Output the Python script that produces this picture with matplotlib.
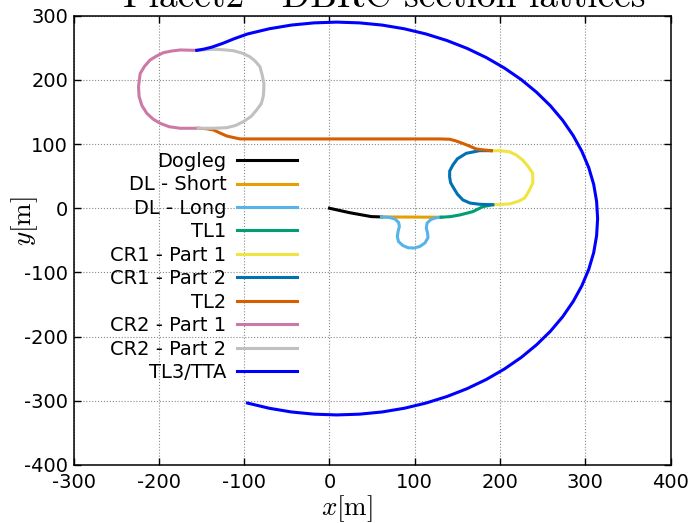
import matplotlib
matplotlib.use("Agg")
import matplotlib.pyplot as plt

plt.rcParams["mathtext.fontset"] = "cm"
plt.rcParams["axes.unicode_minus"] = False

# lattice segments, coordinates in metres
dogleg_x = [0, 24, 49, 61]
dogleg_y = [0, -7, -13, -13.5]

dl_short_x = [61, 131]
dl_short_y = [-13.5, -14]

dl_long_x = [61, 70, 77, 81, 82, 80.5, 79.5, 81, 86, 92, 99, 106, 112, 115.5,
             115, 113.5, 114.5, 119, 125, 131]
dl_long_y = [-13.5, -14.2, -17, -22, -28, -36, -44, -52, -58, -61.5, -62, -59.5,
             -54, -46, -38, -31, -23, -17.5, -14.8, -14]

tl1_x = [131, 142, 153, 168, 180, 191.6]
tl1_y = [-14, -13, -10.4, -5.3, 2.5, 5.5]

cr1_p1_x = [191.6, 211, 222, 229, 234, 238.4, 238.4, 233, 226.7, 219, 211, 200, 189.7]
cr1_p1_y = [5.5, 6.7, 11, 16, 27, 39, 54.5, 65, 75, 83, 88, 89.7, 89.7]

cr1_p2_x = [189.7, 176, 160.4, 150, 144.7, 141, 140.9, 142, 144.7, 150, 156.4, 165, 176, 191.6]
cr1_p2_y = [89.7, 89.7, 85.6, 77, 67.4, 58, 49, 40, 33.6, 22, 13, 8, 6.2, 5.5]

tl2_x = [189.7, 180, 172, 164, 156.4, 148, 141, 130, -105, -112, -120.6, -128, -136, -145, -154]
tl2_y = [89.7, 91, 92.4, 97, 101, 105, 107.5, 108, 108, 110, 112.6, 117, 122, 124, 124.6]

cr2_p1_x = [-154, -175, -188, -198.7, -207, -214.3, -220, -223.3, -224, -223, -222, -217,
            -210.4, -203, -194.8, -185, -175, -155.7]
cr2_p1_y = [124.6, 124.6, 127, 132.4, 139, 148, 160, 174, 189.4, 200, 210, 221,
            231, 237, 242.4, 245, 246.6, 246]

cr2_p2_x = [-154, -137, -120.6, -110, -101, -92, -85.5, -80, -77.7, -77, -77, -79, -81.6,
            -87, -93.3, -102, -113, -125, -136, -155.7]
cr2_p2_y = [124.6, 124.6, 125.5, 129, 135, 143, 153, 163, 174, 185, 194.7, 208, 220.6,
            229, 236, 241.5, 245.5, 247, 247.7, 246]

tl3_x = [-155.7, -147, -138, -125, -112, -96.2, -70.7, -44.6, -18.2, 8.5, 35.2, 61.6,
         87.7, 113.2, 137.8, 161.5, 184, 205.2, 224.9, 242.9, 259.2, 273.5, 285.8, 296,
         304.1, 309.9, 313.3, 314.5, 313.3, 309.9, 304.1, 296, 285.8, 273.5, 259.2, 242.9,
         224.9, 205.2, 184, 161.5, 137.8, 113.2, 87.7, 61.6, 35.2, 8.5, -18.2, -44.6,
         -70.7, -96.2]
tl3_y = [246, 248, 251, 257, 264, 271.5, 279.6, 285.4, 288.8, 290, 288.8, 285.4,
         279.6, 271.5, 261.3, 249, 234.7, 218.4, 200.4, 180.7, 159.5, 137, 113.3, 88.7,
         63.2, 37.1, 10.7, -16, -42.7, -69.1, -95.2, -120.7, -145.3, -169, -191.5, -212.7,
         -232.4, -250.4, -266.7, -281, -293.3, -303.5, -311.6, -317.4, -320.8, -322, -320.8,
         -317.4, -311.6, -303.5]

segments = [
    ("Dogleg", dogleg_x, dogleg_y, "#000000"),
    ("DL - Short", dl_short_x, dl_short_y, "#E69F00"),
    ("DL - Long", dl_long_x, dl_long_y, "#56B4E9"),
    ("TL1", tl1_x, tl1_y, "#009E73"),
    ("CR1 - Part 1", cr1_p1_x, cr1_p1_y, "#F0E442"),
    ("CR1 - Part 2", cr1_p2_x, cr1_p2_y, "#0072B2"),
    ("TL2", tl2_x, tl2_y, "#D55E00"),
    ("CR2 - Part 1", cr2_p1_x, cr2_p1_y, "#CC79A7"),
    ("CR2 - Part 2", cr2_p2_x, cr2_p2_y, "#C0C0C0"),
    ("TL3/TTA", tl3_x, tl3_y, "#0000FF"),
]

fig = plt.figure(figsize=(6.96, 5.23), dpi=100)
ax = fig.add_axes([0.1059, 0.1109, 0.8575, 0.8591])

for name, xs, ys, col in segments:
    ax.plot(xs, ys, color=col, linewidth=2.2, label=name, solid_joinstyle="round")

ax.set_xlim(-300, 400)
ax.set_ylim(-400, 300)
ax.set_xticks(range(-300, 401, 100))
ax.set_yticks(range(-400, 301, 100))

# grid and ticks
ax.grid(True, color="#888888", linestyle=":", linewidth=0.8)
ax.set_axisbelow(True)
ax.tick_params(direction="in", top=True, right=True, length=5, width=1,
               labelsize=14, pad=4)
ax.tick_params(axis="x", pad=6)
for sp in ax.spines.values():
    sp.set_linewidth(1.1)

ax.set_xlabel(r"$x[\mathrm{m}]$", fontsize=19.5)
ax.set_ylabel(r"$y[\mathrm{m}]$", fontsize=19.5)
ax.xaxis.set_label_coords(0.458, -0.062)
ax.yaxis.set_label_coords(-0.056, 0.543)

fig.text(384 / 696, 1 - 7 / 523, "Placet2 - DBRC section lattices",
         fontsize=27, family="cmr10", ha="center", va="baseline")

ax.legend(loc="center", bbox_to_anchor=(0.218, 0.4407), frameon=False,
          markerfirst=False, fontsize=14, labelspacing=0.23,
          handlelength=3.1, handletextpad=0.55)

fig.savefig("out.png", dpi=100)
